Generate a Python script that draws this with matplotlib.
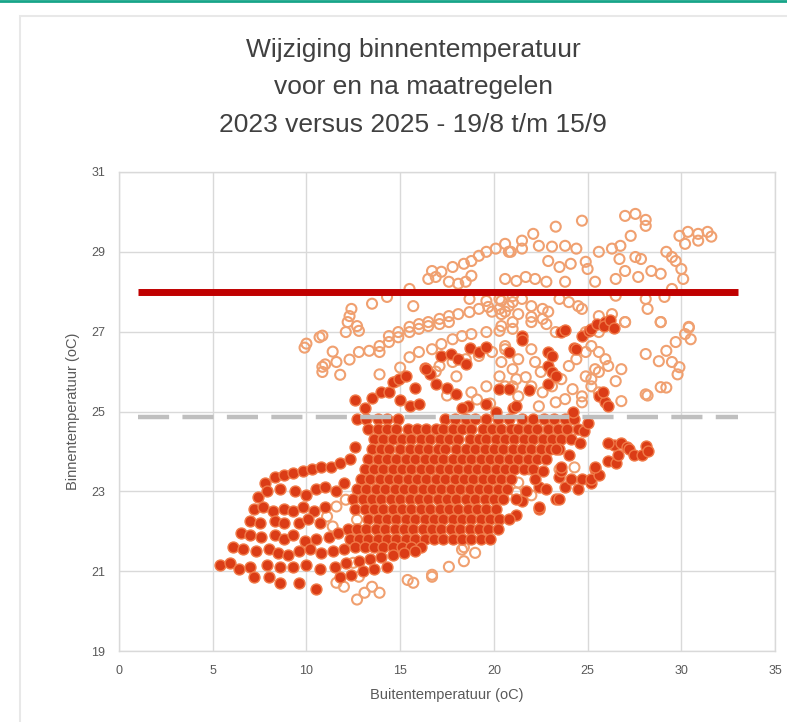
import matplotlib
matplotlib.use("Agg")
import matplotlib.pyplot as plt
from matplotlib.patches import Rectangle
from matplotlib.lines import Line2D

# ---------------- data ----------------
title_lines = ["Wijziging binnentemperatuur", "voor en na maatregelen",
               "2023 versus 2025 - 19/8 t/m 15/9"]
x_label = "Buitentemperatuur (oC)"
y_label = "Binnentemperatuur (oC)"
x_ticks = [0, 5, 10, 15, 20, 25, 30, 35]
y_ticks = [19, 21, 23, 25, 27, 29, 31]

limit_max = 28.0       # red reference line
limit_ref = 24.85      # grey dashed reference line
line_x = [1, 33]

# 2025 (filled) dense core, rows of points: y of each row and its x values
core_y = [24.8, 24.55, 24.3, 24.05, 23.8, 23.55, 23.3, 23.05, 22.8, 22.55, 22.3, 22.05, 21.8, 21.6]
core_x = [
    [12.7, 13.2, 13.8, 14.3, 14.9, 17.4, 17.9, 18.5, 19.0, 19.6, 20.2, 20.8, 21.5, 22.1, 22.7, 23.2, 23.8, 24.3],
    [13.3, 13.8, 14.3, 14.8, 15.4, 15.9, 16.4, 16.9, 17.3, 17.8, 18.3, 18.8, 19.4, 19.9, 20.4, 20.9, 21.3, 21.8, 22.3, 22.9, 23.4, 23.9, 24.5],
    [13.6, 14.1, 14.6, 15.1, 15.6, 16.1, 16.6, 17.1, 17.6, 18.1, 18.7, 19.2, 19.6, 20.1, 20.6, 21.1, 21.6, 22.1, 22.6, 23.1, 23.6, 24.1],
    [13.5, 14.0, 14.4, 15.0, 15.5, 16.0, 16.5, 17.0, 17.4, 18.0, 18.5, 19.0, 19.5, 20.0, 20.5, 21.0, 21.5, 22.0, 22.5, 23.0, 23.5],
    [13.3, 13.8, 14.3, 14.8, 15.3, 15.8, 16.3, 16.8, 17.3, 17.8, 18.3, 18.8, 19.3, 19.8, 20.3, 20.8, 21.3, 21.8, 22.3, 22.8],
    [13.1, 13.6, 14.1, 14.6, 15.1, 15.6, 16.1, 16.6, 17.1, 17.6, 18.1, 18.6, 19.1, 19.6, 20.1, 20.6, 21.1, 21.6, 22.1],
    [12.9, 13.4, 13.9, 14.4, 14.9, 15.4, 15.9, 16.4, 16.9, 17.4, 17.9, 18.4, 18.9, 19.4, 19.9, 20.4, 20.9],
    [12.7, 13.2, 13.7, 14.2, 14.7, 15.2, 15.7, 16.2, 16.7, 17.2, 17.7, 18.2, 18.7, 19.2, 19.7, 20.2, 20.7],
    [12.5, 13.0, 13.5, 14.0, 14.5, 15.0, 15.5, 16.0, 16.5, 17.0, 17.5, 18.0, 18.5, 19.0, 19.5, 20.0, 20.5],
    [12.6, 13.1, 13.6, 14.1, 14.6, 15.1, 15.6, 16.1, 16.6, 17.1, 17.6, 18.1, 18.6, 19.1, 19.6, 20.1],
    [13.3, 13.8, 14.3, 14.8, 15.3, 15.8, 16.3, 16.8, 17.3, 17.8, 18.3, 18.8, 19.3, 19.8, 20.3],
    [12.2, 12.7, 13.2, 13.7, 14.2, 14.7, 15.2, 15.7, 16.2, 16.7, 17.2, 17.7, 18.2, 18.7, 19.2, 19.7, 20.2],
    [12.3, 12.8, 13.3, 13.8, 14.3, 14.8, 15.3, 15.8, 16.3, 16.8, 17.3, 17.8, 18.3, 18.8, 19.3, 19.8],
    [12.6, 13.1, 13.6, 14.1, 14.6, 15.1, 15.6, 16.1],
]

# 2025 (filled) other points (x, y)
pts_2025 = [
    # above the dashed line
    (12.6, 25.3), (13.1, 25.1), (13.5, 25.35), (14.0, 25.5), (14.4, 25.48), (14.6, 25.75),
    (14.95, 25.81), (15.3, 25.9), (15.5, 25.13), (15.8, 25.6), (16.3, 26.1), (16.6, 25.95),
    (16.4, 26.06), (16.9, 25.7), (17.2, 26.39), (17.7, 26.45), (18.1, 26.31), (18.5, 26.2),
    (18.7, 26.6), (19.2, 26.5), (19.6, 26.62), (17.5, 25.6), (18.0, 25.45), (18.6, 25.13),
    (18.3, 25.1), (19.6, 25.2), (20.1, 25.0), (20.3, 25.56), (20.8, 25.56), (21.0, 25.1),
    (21.2, 25.13), (21.9, 25.55), (21.5, 26.89), (21.5, 26.8), (20.8, 26.49), (22.9, 26.5),
    (22.9, 26.14), (23.1, 25.99), (22.9, 25.7), (23.1, 26.39), (23.3, 25.88), (23.6, 26.99),
    (23.8, 27.04), (24.3, 26.6), (24.4, 26.56), (24.7, 26.89), (25.05, 27.02), (25.2, 27.07),
    (25.5, 27.2), (25.95, 27.24), (25.9, 27.14), (26.2, 27.3), (26.4, 27.1), (25.6, 25.38),
    (25.95, 25.23), (26.1, 25.13), (25.8, 25.5), (24.2, 24.98), (16.0, 25.2), (15.0, 25.3),
    # right lower streaks
    (21.2, 22.4), (21.5, 22.75), (22.4, 22.55), (22.4, 22.6), (22.4, 23.1), (22.8, 23.05),
    (23.3, 22.8), (23.5, 22.8), (23.5, 23.37), (23.6, 23.5), (23.8, 23.1), (24.1, 23.3),
    (24.5, 23.05), (24.7, 23.3), (25.2, 23.2), (25.2, 23.3), (25.4, 23.55), (25.6, 23.4),
    (25.4, 23.6), (26.1, 23.75), (26.5, 23.7), (26.6, 23.9), (26.4, 24.15), (26.1, 24.2),
    (26.8, 24.2), (27.1, 24.1), (27.2, 24.05), (27.5, 23.9), (27.9, 23.9), (28.1, 24.13),
    (28.2, 24.0), (23.6, 23.6), (24.8, 24.5), (25.0, 24.7), (24.6, 24.2), (24.0, 23.9),
    (23.3, 24.05), (22.6, 23.5), (22.2, 23.3), (21.7, 23.0), (21.2, 22.8), (20.8, 22.3),
    # left arm
    (7.8, 23.2), (8.3, 23.35), (8.8, 23.4), (9.3, 23.45), (9.8, 23.5), (10.3, 23.55),
    (10.8, 23.6), (11.3, 23.6), (11.8, 23.7), (12.3, 23.8), (12.6, 24.1),
    (7.4, 22.85), (7.9, 23.0), (8.6, 23.05), (9.4, 23.0), (10.0, 22.9), (10.5, 23.05), (11.0, 23.1),
    (7.2, 22.55), (7.7, 22.6), (8.2, 22.5), (8.8, 22.55), (9.3, 22.5), (9.8, 22.6), (10.4, 22.5),
    (11.0, 22.6), (12.0, 23.2), (11.6, 23.0),
    (7.0, 22.25), (7.5, 22.2), (8.3, 22.25), (8.8, 22.2), (9.6, 22.2), (10.1, 22.3), (10.7, 22.2),
    (6.5, 21.95), (7.0, 21.9), (7.6, 21.85), (8.3, 21.9), (8.8, 21.8), (9.3, 21.9), (9.9, 21.75),
    (10.5, 21.8), (11.2, 21.85), (11.7, 21.95),
    (6.1, 21.6), (6.6, 21.55), (7.3, 21.5), (8.0, 21.55), (8.5, 21.45), (9.0, 21.4), (9.6, 21.5),
    (10.2, 21.55), (10.8, 21.45), (11.4, 21.5), (12.0, 21.55),
    (5.4, 21.15), (5.9, 21.2), (6.4, 21.05), (7.0, 21.1), (7.9, 21.15), (8.6, 21.1), (9.3, 21.1),
    (10.0, 21.15), (10.7, 21.05), (11.5, 21.1), (12.1, 21.2), (12.8, 21.25), (13.4, 21.3),
    (14.0, 21.35), (14.6, 21.4), (15.2, 21.45), (15.8, 21.5),
    (7.2, 20.85), (8.0, 20.85), (8.6, 20.7), (9.6, 20.7), (10.5, 20.55), (11.8, 20.85), (12.4, 20.9),
    (13.0, 21.0), (13.6, 21.05), (14.3, 21.1),
]

# 2023 (hollow) points (x, y)
pts_2023 = [
    # top
    (24.7, 29.78), (23.3, 29.63), (27.0, 29.9), (27.55, 29.95), (28.1, 29.8), (28.1, 29.65),
    (27.3, 29.4), (22.1, 29.45), (20.6, 29.2), (20.8, 29.0), (21.5, 29.28), (21.5, 29.08),
    (22.4, 29.15), (23.1, 29.13), (23.8, 29.15), (24.4, 29.08), (22.9, 28.77), (23.5, 28.62),
    (24.1, 28.7), (24.9, 28.75), (25.6, 29.0), (26.3, 29.08), (26.75, 29.15), (25.0, 28.57),
    (26.7, 28.82), (27.55, 28.87), (27.85, 28.82), (27.0, 28.52), (27.7, 28.37), (28.4, 28.52),
    (28.9, 28.45), (29.2, 29.0), (29.5, 28.87), (29.7, 28.77), (30.0, 28.57), (30.1, 28.32),
    (29.9, 29.4), (30.35, 29.5), (30.9, 29.45), (31.4, 29.5), (30.9, 29.28), (30.2, 29.2),
    (31.6, 29.38), (20.6, 28.32), (21.2, 28.27), (21.7, 28.37), (22.2, 28.32), (22.8, 28.25),
    (23.8, 28.25), (25.4, 28.25), (26.5, 28.32), (28.1, 27.82), (29.1, 27.87), (29.5, 28.07),
    (26.5, 27.9), (28.2, 27.57), (28.9, 27.24),
    (20.4, 27.77), (21.0, 27.74), (21.5, 27.82), (22.0, 27.64), (22.6, 27.57), (20.6, 27.5),
    (21.3, 27.44), (22.0, 27.37), (22.6, 27.32), (22.9, 27.5), (23.5, 27.82), (24.0, 27.74),
    (24.5, 27.64), (24.7, 27.57), (25.6, 27.39), (26.3, 27.44), (27.0, 27.24), (30.4, 27.1),
    (30.2, 26.94),
    (16.7, 28.52), (16.9, 28.37), (16.5, 28.32), (17.2, 28.5), (17.8, 28.62), (18.4, 28.7),
    (18.8, 28.77), (19.2, 28.9), (19.6, 29.0), (20.1, 29.08), (20.9, 29.0), (17.6, 28.25),
    (18.1, 28.2), (18.5, 28.25), (18.8, 28.4), (15.5, 28.07), (15.7, 27.64), (14.3, 27.87),
    (13.5, 27.7), (12.4, 27.57), (12.3, 27.39), (12.2, 27.24), (12.7, 27.14), (12.8, 27.02),
    (12.1, 26.99), (10.85, 26.9),
    (14.4, 26.89), (14.9, 26.99), (15.5, 27.12), (16.0, 27.19), (16.5, 27.24), (17.1, 27.32),
    (17.6, 27.39), (18.1, 27.44), (18.7, 27.49), (19.2, 27.57), (19.7, 27.62), (20.3, 27.57),
    (20.8, 27.64), (18.7, 27.82), (19.6, 27.77), (20.3, 27.82), (21.0, 27.89), (19.9, 27.5),
    (20.4, 27.44),
    # middle
    (10.0, 26.7), (10.7, 26.86), (11.4, 26.5), (11.6, 26.24), (12.3, 26.3), (10.85, 26.12),
    (10.85, 25.99), (11.8, 25.92), (9.9, 26.6), (11.0, 26.18),
    (12.8, 26.49), (13.35, 26.52), (13.9, 26.64), (14.4, 26.74), (14.9, 26.86), (15.5, 26.99),
    (16.0, 27.07), (16.5, 27.14), (17.1, 27.19), (17.6, 27.24), (13.9, 26.49), (13.9, 25.93),
    (15.5, 26.36), (16.0, 26.49), (16.7, 26.56), (17.2, 26.69), (17.8, 26.81), (18.3, 26.89),
    (18.8, 26.94), (19.6, 26.99), (20.3, 27.02), (21.0, 27.07),
    (16.4, 26.06), (17.1, 26.14), (17.8, 26.24), (18.5, 26.31), (19.2, 26.39), (19.9, 26.49),
    (20.6, 26.56), (18.0, 25.88), (18.8, 25.48), (19.6, 25.63), (20.3, 25.88), (21.0, 26.06),
    (20.6, 25.63), (21.2, 25.81),
    (21.0, 27.24), (22.0, 27.24), (22.8, 27.19), (23.3, 26.99), (23.8, 27.02), (24.9, 26.99),
    (25.6, 26.99), (27.0, 27.24), (28.9, 27.24),
    (30.4, 27.12), (30.5, 26.81), (29.7, 26.74), (29.2, 26.52), (28.1, 26.44), (28.8, 26.26),
    (29.5, 26.24), (29.9, 26.11), (29.8, 25.93), (28.9, 25.61), (28.1, 25.43), (26.8, 25.26),
    (26.5, 25.76), (26.8, 26.06), (26.1, 26.14), (25.6, 25.99), (25.2, 25.81), (24.7, 25.38),
    (24.7, 25.23), (29.2, 25.6), (28.2, 25.4),
    (20.4, 27.14), (20.6, 26.64), (20.4, 26.24), (21.3, 26.31), (22.0, 26.56), (22.2, 26.24),
    (22.5, 25.99), (21.7, 25.86), (21.0, 25.63), (21.3, 25.38), (22.0, 25.63), (22.6, 25.48),
    (23.1, 25.63), (23.6, 25.81), (24.0, 26.14), (24.4, 26.31), (24.9, 26.49), (25.2, 26.64),
    (25.6, 26.49), (25.95, 26.31), (25.4, 26.06), (24.9, 25.88), (24.2, 25.56), (23.8, 25.31),
    (22.4, 25.13), (23.3, 25.23), (25.2, 25.63), (25.6, 25.48),
    (15.0, 26.1), (14.8, 25.75), (16.9, 26.0), (17.5, 25.4), (19.1, 25.3), (19.8, 25.2),
    # lower
    (12.1, 22.79), (11.6, 22.62), (11.1, 22.37), (11.4, 22.12), (12.7, 22.29), (12.5, 21.21),
    (13.2, 21.11), (12.8, 20.86), (13.5, 20.61), (13.9, 20.46), (12.0, 20.61), (11.6, 20.71),
    (12.7, 20.29), (13.1, 20.46), (15.4, 20.78), (15.7, 20.71), (16.7, 20.86),
    (18.3, 21.54), (19.0, 21.46), (17.6, 21.11), (16.7, 20.91), (20.3, 22.29), (21.2, 22.97),
    (21.3, 23.22), (21.9, 23.55), (23.5, 23.55), (18.4, 21.6), (18.4, 21.25),
    (21.6, 23.9), (22.4, 24.1), (23.1, 24.3), (23.6, 24.45), (22.0, 22.9), (24.3, 23.6),
]

# ---------------- figure ----------------
plt.rcParams['font.family'] = ['Liberation Sans', 'DejaVu Sans']

fig = plt.figure(figsize=(7.87, 7.22), dpi=100)
fig.patch.set_facecolor('white')

# card outline and teal top rule
fig.add_artist(Rectangle((0.025, -0.01), 0.99, 0.988, transform=fig.transFigure,
                         facecolor='none', edgecolor='#E8E8E8', lw=1.5, zorder=-5))
fig.add_artist(Line2D([0, 1], [0.998, 0.998], transform=fig.transFigure,
                      color='#17A589', lw=2.0, zorder=-5))

ax = fig.add_axes([0.1512, 0.0983, 0.8336, 0.6635])
ax.set_facecolor('white')
ax.set_xlim(0, 35)
ax.set_ylim(19, 31)
ax.set_xticks(x_ticks)
ax.set_yticks(y_ticks)
ax.grid(True, color='#D9D9D9', lw=1.0)
ax.set_axisbelow(True)
for s in ax.spines.values():
    s.set_color('#D9D9D9')
    s.set_linewidth(1.0)
ax.tick_params(length=0, labelsize=9, colors='#595959', pad=10)

# 2023 hollow markers
hx = [p[0] for p in pts_2023]
hy = [p[1] for p in pts_2023]
ax.scatter(hx, hy, s=52, facecolors='none', edgecolors='#F0A070', linewidths=1.5, zorder=2)

# 2025 filled markers
fx = [x for xs, yv in zip(core_x, core_y) for x in xs] + [p[0] for p in pts_2025]
fy = [yv for xs, yv in zip(core_x, core_y) for _ in xs] + [p[1] for p in pts_2025]
ax.scatter(fx, fy, s=62, facecolors='#DB3C16', edgecolors='#F07A48', linewidths=1.0, zorder=3)

# reference lines
ax.plot(line_x, [limit_max, limit_max], color='#C00000', lw=5, solid_capstyle='butt', zorder=4)
ax.plot(line_x, [limit_ref, limit_ref], color='#BFBFBF', lw=3.2, dashes=(7, 3),
        dash_capstyle='butt', zorder=4)

ax.set_xlabel(x_label, fontsize=10.5, color='#595959', labelpad=8)
ax.set_ylabel(y_label, fontsize=10.5, color='#595959', labelpad=8)

for i, t in enumerate(title_lines):
    fig.text(0.525, 0.931 - i * 0.052, t, ha='center', va='center', fontsize=19, color='#404040')

fig.savefig('out.png', dpi=100)
